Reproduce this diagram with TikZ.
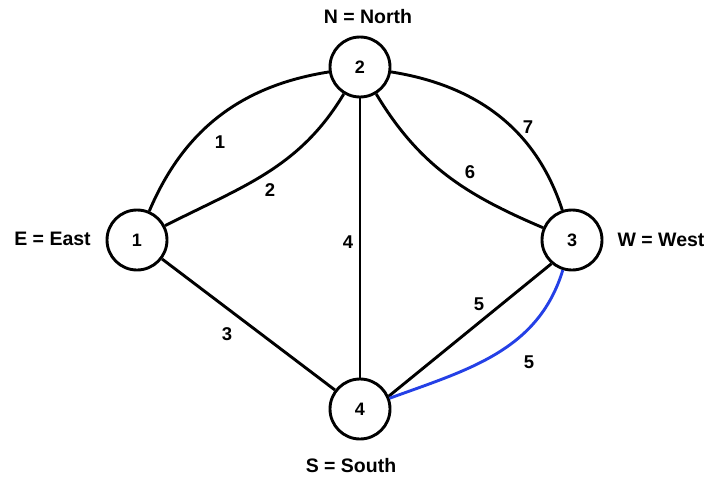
\documentclass[tikz,border=0pt]{standalone}
\usepackage{fontspec}
\setmainfont{Liberation Sans}
\definecolor{edgeblue}{RGB}{36,64,230}
\begin{document}
\begin{tikzpicture}[x=1pt,y=1pt,
 vertex/.style={circle,draw,line width=2.9pt,minimum size=60pt,inner sep=0pt,font=\fontsize{18}{20}\selectfont\bfseries},
 edge/.style={line width=2.9pt},
 wlabel/.style={font=\fontsize{18.5}{20}\selectfont\bfseries,inner sep=0pt},
 dirlabel/.style={font=\fontsize{19.5}{22}\selectfont\bfseries,inner sep=0pt}]
\useasboundingbox (0,-479) rectangle (709,0);
\node[vertex] (n1) at (137,-240) {1};
\node[vertex] (n2) at (360,-67) {2};
\node[vertex] (n3) at (572,-240) {3};
\node[vertex] (n4) at (360,-409) {4};
\node[dirlabel] (tN) at (368,-16.5) {N = North};
\node[dirlabel] (tS) at (351,-466) {S = South};
\node[dirlabel] (tE) at (52.5,-239) {E = East};
\node[dirlabel] (tW) at (661,-240) {W = West};
\draw[edge] (n1) to[out=67,in=189] (n2);
\draw[edge] (n1) to[out=27,in=239] (n2);
\draw[edge] (n1) -- (n4);
\draw[edge] (n2) -- (n4);
\draw[edge] (n2) to[out=-59,in=157] (n3);
\draw[edge] (n2) to[out=-9,in=108] (n3);
\draw[edge] (n3.229) -- (n4.24);
\draw[edge,draw=edgeblue] (n3) to[out=253,in=20] (n4);
\node[wlabel] (w1) at (220,-142) {1};
\node[wlabel] (w2) at (270,-190) {2};
\node[wlabel] (w3) at (227,-334) {3};
\node[wlabel] (w4) at (348,-242) {4};
\node[wlabel] (w5a) at (479,-304) {5};
\node[wlabel] (w5b) at (529,-362) {5};
\node[wlabel] (w6) at (470,-172) {6};
\node[wlabel] (w7) at (528,-127) {7};
\end{tikzpicture}
\end{document}
